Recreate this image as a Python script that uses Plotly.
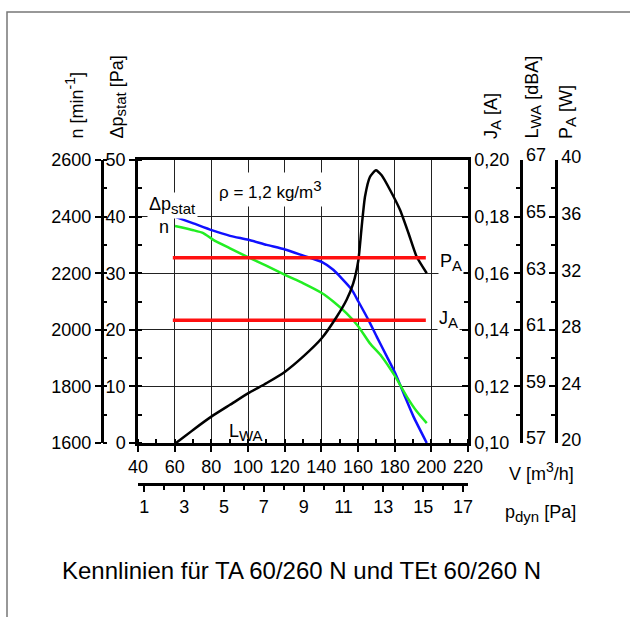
import plotly.graph_objects as go

# ---------------- data ----------------
V_dp = [60, 70.2, 80.2, 90.2, 100.2, 110.2, 120.2, 130.2, 140.2, 146.5, 151.1,
        156.6, 160.2, 165.6, 170.2, 175.7, 180.2, 185.6, 190.2, 197.5]
dp_stat = [40.0, 38.8, 37.6, 36.6, 35.9, 35.0, 34.2, 33.1, 32.0, 30.6, 29.1,
           27.1, 25.0, 21.8, 18.8, 15.3, 12.4, 8.2, 4.7, 0.0]

V_n = [60.2, 70.2, 75.6, 81.1, 90.2, 100.2, 110.2, 120.2, 130.2, 140.2, 146.5,
       153.8, 160.2, 166.5, 172.9, 180.2, 186.6, 192.0, 197.5]
n_rpm = [2367, 2352, 2342, 2318, 2288, 2256, 2226, 2194, 2164, 2130, 2100,
         2058, 2012, 1952, 1906, 1836, 1764, 1712, 1670]

V_L = [60.7, 70.2, 80.2, 90.2, 100.2, 110.2, 120.2, 130.2, 140.2, 148.4, 153.8,
       157.4, 160.2, 162.0, 163.8, 166.5, 169.8, 172.9, 177.5, 182.9, 187.5,
       192.0, 197.5]
LWA = [57.0, 57.47, 57.94, 58.35, 58.76, 59.12, 59.52, 60.06, 60.7, 61.46, 62.06,
       62.64, 63.46, 64.64, 65.7, 66.4, 66.64, 66.46, 65.94, 65.24, 64.42,
       63.58, 63.0]

V_red = [59, 197]
PA = [33.1, 33.1]
JA = [0.1434, 0.1434]

V_ticks = [40, 60, 80, 100, 120, 140, 160, 180, 200, 220]
pdyn_ticks = [1, 3, 5, 7, 9, 11, 13, 15, 17]
dp_ticks = [0, 10, 20, 30, 40, 50]
n_ticks = [1600, 1800, 2000, 2200, 2400, 2600]
JA_ticks = [0.10, 0.12, 0.14, 0.16, 0.18, 0.20]
JA_labels = ["0,10", "0,12", "0,14", "0,16", "0,18", "0,20"]
LWA_ticks = [57, 59, 61, 63, 65, 67]
PA_ticks = [20, 24, 28, 32, 36, 40]

title_text = "Kennlinien für TA 60/260 N und TEt 60/260 N"

# ---------------- layout geometry ----------------
W, H = 630, 617
L, R, T, B = 90, 570, 160, 490


def px(x):
    return (x - L) / (R - L)


def py(y):
    return (B - y) / (B - T)


FONT = "Liberation Sans, Arial, sans-serif"
FS = 18


def sub(s, size=15):
    return "<sub><span style='font-size:%dpx'>%s</span></sub>" % (size, s)


def sup(s, size=14):
    return "<sup><span style='font-size:%dpx'>%s</span></sup>" % (size, s)


fig = go.Figure()

fig.add_trace(go.Scatter(x=V_dp, y=dp_stat, mode="lines", yaxis="y",
                         line=dict(color="#1010ff", width=2.5, shape="spline", smoothing=0.5)))
fig.add_trace(go.Scatter(x=V_n, y=n_rpm, mode="lines", yaxis="y2",
                         line=dict(color="#22ee22", width=2.5, shape="spline", smoothing=0.5)))
fig.add_trace(go.Scatter(x=V_L, y=LWA, mode="lines", yaxis="y4",
                         line=dict(color="black", width=2.5, shape="spline", smoothing=0.5)))
fig.add_trace(go.Scatter(x=V_red, y=PA, mode="lines", yaxis="y5",
                         line=dict(color="#ff1010", width=3.5)))
fig.add_trace(go.Scatter(x=V_red, y=JA, mode="lines", yaxis="y3",
                         line=dict(color="#ff1010", width=3.5)))
# carrier for the p_dyn axis
fig.add_trace(go.Scatter(x=pdyn_ticks, y=[25] * len(pdyn_ticks), xaxis="x2", yaxis="y",
                         mode="markers", marker=dict(opacity=0), hoverinfo="skip"))

tickfont = dict(family=FONT, size=FS, color="black")
common_y = dict(showgrid=False, zeroline=False, showline=True, linecolor="black",
                linewidth=2.5, tickcolor="black", tickwidth=2, tickfont=tickfont)

fig.update_layout(
    width=W, height=H, showlegend=False,
    margin=dict(l=L, r=W - R, t=T, b=H - B),
    paper_bgcolor="white", plot_bgcolor="white",
    font=dict(family=FONT, size=FS, color="black"),
    xaxis=dict(domain=[px(138), px(468)], range=[40, 220], anchor="y",
               tickvals=V_ticks, ticks="outside", ticklen=6, tickwidth=2, tickcolor="black",
               minor=dict(dtick=10, tick0=40, ticks="inside", ticklen=4, tickwidth=2,
                          tickcolor="black", showgrid=False),
               showgrid=True, gridcolor="#222222", gridwidth=1,
               showline=True, linecolor="black", linewidth=2.5, mirror=True,
               zeroline=False, tickfont=tickfont),
    xaxis2=dict(overlaying="x", anchor="free", position=py(484),
                range=[0.684, 17.25], tickvals=pdyn_ticks, ticks="outside", ticklen=6,
                tickwidth=2, tickcolor="black",
                minor=dict(dtick=1, tick0=1, ticks="outside", ticklen=4, tickwidth=2,
                           tickcolor="black", showgrid=False),
                showgrid=False, zeroline=False, showline=True, linecolor="black",
                linewidth=2.5, tickfont=tickfont),
    yaxis=dict(domain=[py(443), 1], range=[0, 50], anchor="x", tickvals=dp_ticks,
               ticks="outside", ticklen=6, tickwidth=2, tickcolor="black",
               minor=dict(dtick=5, ticks="inside", ticklen=4, tickwidth=2,
                          tickcolor="black", showgrid=False),
               showgrid=True, gridcolor="#222222", gridwidth=1,
               showline=True, linecolor="black", linewidth=2.5, mirror=True,
               zeroline=False, tickfont=tickfont),
    yaxis2=dict(overlaying="y", anchor="free", position=px(101.7), side="left",
                range=[1600, 2600], tickvals=n_ticks, ticks="outside", ticklen=6,
                minor=dict(dtick=100, ticks="inside", ticklen=4, tickwidth=2,
                           tickcolor="black", showgrid=False), **common_y),
    yaxis3=dict(overlaying="y", anchor="x", side="right", range=[0.10, 0.20],
                tickvals=JA_ticks, ticktext=JA_labels, ticks="inside", ticklen=6,
                minor=dict(dtick=0.01, tick0=0.10, ticks="inside", ticklen=4, tickwidth=2,
                           tickcolor="black", showgrid=False), **common_y),
    yaxis4=dict(overlaying="y", anchor="free", position=px(520.7), side="right",
                range=[57, 67], tickvals=LWA_ticks, ticks="inside", ticklen=6,
                ticklabelshift=-5,
                minor=dict(dtick=1, tick0=57, ticks="inside", ticklen=4, tickwidth=2,
                           tickcolor="black", showgrid=False), **common_y),
    yaxis5=dict(overlaying="y", anchor="free", position=px(556), side="right",
                range=[20, 40], tickvals=PA_ticks, ticks="inside", ticklen=6,
                ticklabelshift=-3,
                minor=dict(dtick=2, tick0=20, ticks="inside", ticklen=4, tickwidth=2,
                           tickcolor="black", showgrid=False), **common_y),
)

ann = []


def add(text, x, y, xa="center", ya="middle", size=FS, angle=0, bg=None, pad=1):
    d = dict(text=text, x=px(x), y=py(y), xref="paper", yref="paper",
             xanchor=xa, yanchor=ya, showarrow=False, textangle=angle,
             font=dict(family=FONT, size=size, color="black"), borderpad=pad)
    if bg:
        d["bgcolor"] = bg
    ann.append(d)


add("ρ = 1,2 kg/m" + sup("3", 15), 270, 189, size=17, bg="white", pad=4)
add("Δp" + sub("stat"), 147, 205, xa="left", bg="white")
add("n", 164, 227)
add("P" + sub("A"), 451, 262, bg="white")
add("J" + sub("A"), 448, 319, bg="white")
add("L" + sub("WA"), 246, 432)
add("V [m" + sup("3") + "/h]", 541, 471)
add("p" + sub("dyn") + " [Pa]", 540, 513)
add("n [min" + sup("-1") + "]", 75, 141, ya="bottom", angle=-90)
add("Δp" + sub("stat") + " [Pa]", 118, 141, ya="bottom", angle=-90)
add("J" + sub("A") + " [A]", 492, 141, ya="bottom", angle=-90)
add("L" + sub("WA") + " [dBA]", 533, 141, ya="bottom", angle=-90)
add("P" + sub("A") + " [W]", 567, 141, ya="bottom", angle=-90)
add(title_text, 60, 570, xa="left", size=24)

fig.update_layout(annotations=ann)

fig.add_shape(type="rect", xref="paper", yref="paper",
              x0=px(7), x1=px(700), y0=py(700), y1=py(12),
              line=dict(color="#777777", width=1.5), fillcolor="rgba(0,0,0,0)", layer="below")

fig.write_html("out.html")
